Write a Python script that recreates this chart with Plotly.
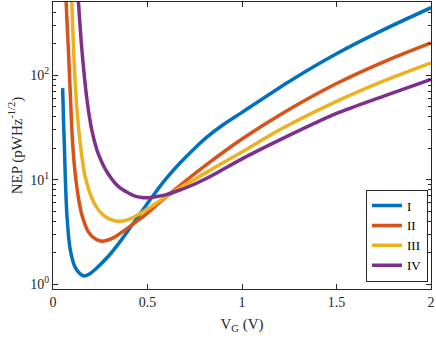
import plotly.graph_objects as go

# values (V_G in volts, NEP in pW/Hz^0.5)
x_I = [0.051, 0.056, 0.061, 0.065, 0.074, 0.091, 0.118, 0.145, 0.167, 0.195, 0.224,
       0.294, 0.365, 0.452, 0.541, 0.594, 0.673, 0.75, 0.814, 0.9, 1.0, 1.25, 1.5, 1.75, 2.0]
nep_I = [75, 35, 19.3, 10.5, 4.47, 2.15, 1.44, 1.25, 1.2, 1.26, 1.39,
         1.86, 2.7, 4.5, 7.5, 10.0, 14.5, 20, 25.5, 33.5, 44, 87, 160, 272, 441]

x_II = [0.069, 0.076, 0.083, 0.091, 0.104, 0.121, 0.137, 0.153, 0.188, 0.225, 0.259,
        0.295, 0.329, 0.4, 0.488, 0.55, 0.64, 0.814, 1.0, 1.2, 1.5, 1.75, 2.0]
nep_II = [520, 280, 150, 70, 22, 10, 6.3, 4.6, 3.15, 2.7, 2.58,
          2.66, 2.85, 3.5, 4.6, 5.75, 7.9, 14, 24.5, 41.6, 83, 134, 203]

x_III = [0.099, 0.109, 0.123, 0.148, 0.171, 0.206, 0.232, 0.259, 0.3, 0.347, 0.39,
         0.435, 0.523, 0.594, 0.64, 0.814, 1.0, 1.2, 1.5, 1.75, 2.0]
nep_III = [520, 173, 57.6, 19.3, 10.5, 6.6, 5.4, 4.7, 4.2, 4.0, 4.1,
           4.47, 5.57, 6.8, 7.7, 11.8, 18.4, 30, 56, 88, 131]

x_IV = [0.134, 0.153, 0.18, 0.205, 0.232, 0.25, 0.27, 0.29, 0.31, 0.33, 0.35, 0.37,
        0.39, 0.41, 0.43, 0.45, 0.47, 0.49, 0.51, 0.55, 0.6, 0.65, 0.72, 0.814,
        1.0, 1.2, 1.5, 1.75, 2.0]
nep_IV = [520, 173, 57.6, 30, 19.3, 15.9, 13.3, 11.5, 10.2, 9.2, 8.5, 8.0,
          7.6, 7.26, 7.0, 6.84, 6.75, 6.72, 6.73, 6.89, 7.2, 7.7, 8.6, 10.3,
          15.8, 24, 43, 63, 91]

series = [
    ('I', x_I, nep_I, '#0072BD'),
    ('II', x_II, nep_II, '#D95319'),
    ('III', x_III, nep_III, '#EDB120'),
    ('IV', x_IV, nep_IV, '#7E2F8E'),
]

x_ticks = [0, 0.5, 1, 1.5, 2]
x_tick_labels = ['0', '0.5', '1', '1.5', '2']
y_ticks = [1, 10, 100]
y_tick_labels = ['10<sup>0</sup>', '10<sup>1</sup>', '10<sup>2</sup>']

serif = 'Liberation Serif, Times New Roman, serif'
axis_color = '#262626'

fig = go.Figure()
for name, xs, ys, color in series:
    fig.add_trace(go.Scatter(
        x=xs, y=ys, mode='lines', name=name,
        line=dict(color=color, width=3.5, shape='spline', smoothing=0.8),
    ))

fig.update_layout(
    width=436, height=340,
    margin=dict(l=53, r=5, t=2, b=51),
    paper_bgcolor='white', plot_bgcolor='white',
    font=dict(family=serif, size=14, color=axis_color),
    showlegend=True,
    legend=dict(
        x=0.992, y=0.026, xanchor='right', yanchor='bottom',
        bgcolor='white', bordercolor=axis_color, borderwidth=1,
        font=dict(family=serif, size=13, color='black'),
        tracegroupgap=0, itemwidth=30,
    ),
)

fig.update_xaxes(
    range=[0, 2], tickvals=x_ticks, ticktext=x_tick_labels,
    ticks='inside', ticklen=5, tickcolor=axis_color,
    showline=True, linecolor=axis_color, linewidth=1, mirror='ticks',
    showgrid=False, zeroline=False,
    title=dict(text='V<sub>G</sub> (V)', standoff=9, font=dict(size=15)),
)
fig.update_yaxes(
    type='log', range=[-0.0458, 2.699],
    tickvals=y_ticks, ticktext=y_tick_labels,
    ticks='inside', ticklen=5, tickcolor=axis_color,
    minor=dict(ticks='inside', ticklen=3, tickcolor=axis_color, dtick='D1', showgrid=False),
    showline=True, linecolor=axis_color, linewidth=1, mirror='ticks',
    showgrid=False, zeroline=False,
    title=dict(text='NEP (pWHz<sup>-1/2</sup>)', standoff=4, font=dict(size=15)),
)

# drop the default page margin so the 436x340 figure fills the window
fig.write_html('out.html', config={'displayModeBar': False},
               post_script="document.body.style.margin='0';")
